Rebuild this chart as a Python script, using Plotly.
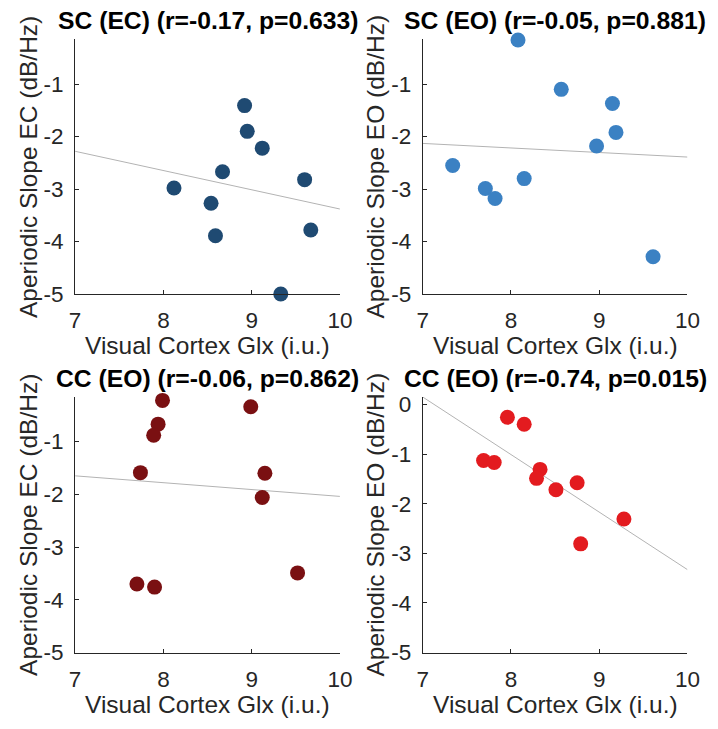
import plotly.graph_objects as go

W, H = 718, 729

# ---------------- data ----------------
titles = [
    "SC (EC) (r=-0.17, p=0.633)",
    "SC (EO) (r=-0.05, p=0.881)",
    "CC (EO) (r=-0.06, p=0.862)",
    "CC (EO) (r=-0.74, p=0.015)",
]
ylabels = [
    "Aperiodic Slope EC (dB/Hz)",
    "Aperiodic Slope EO (dB/Hz)",
    "Aperiodic Slope EC (dB/Hz)",
    "Aperiodic Slope EO (dB/Hz)",
]
xlabel = "Visual Cortex Glx (i.u.)"

sc_ec_x = [8.92, 8.95, 9.12, 8.67, 8.12, 8.54, 8.59, 9.60, 9.67, 9.33]
sc_ec_y = [-1.41, -1.90, -2.22, -2.67, -2.98, -3.27, -3.89, -2.82, -3.78, -5.00]

sc_eo_x = [8.08, 8.57, 9.15, 9.19, 8.97, 7.34, 8.15, 7.71, 7.82, 9.61]
sc_eo_y = [-0.16, -1.10, -1.37, -1.92, -2.18, -2.55, -2.80, -2.99, -3.18, -4.29]

cc_ec_x = [7.99, 8.99, 7.94, 7.89, 7.74, 9.15, 9.12, 9.52, 7.70, 7.90]
cc_ec_y = [-0.22, -0.34, -0.67, -0.88, -1.59, -1.60, -2.06, -3.49, -3.70, -3.76]

cc_eo_x = [7.96, 8.15, 7.69, 7.81, 8.33, 8.29, 8.51, 8.75, 9.28, 8.79]
cc_eo_y = [-0.26, -0.40, -1.13, -1.17, -1.31, -1.49, -1.72, -1.58, -2.31, -2.81]

xs = [sc_ec_x, sc_eo_x, cc_ec_x, cc_eo_x]
ys = [sc_ec_y, sc_eo_y, cc_ec_y, cc_eo_y]

# regression lines: value at x=7 and x=10
fit_x = [7, 10]
fit_y = [
    [-2.28, -3.38],
    [-2.13, -2.39],
    [-1.65, -2.04],
    [0.15, -3.33],
]

colors = ["#1f4a72", "#3b81c3", "#7a1012", "#e31b1f"]
x_ticks = [7, 8, 9, 10]
y_ticks = [[-5, -4, -3, -2, -1], [-5, -4, -3, -2, -1], [-5, -4, -3, -2, -1], [-5, -4, -3, -2, -1, 0]]
y_ranges = [[-5, -0.144], [-5, -0.144], [-5, -0.148], [-5, 0.157]]

# ---------------- layout geometry (pixels) ----------------
boxes = [
    (71, 343, 36, 297),
    (428, 700, 36, 297),
    (71, 343, 402, 664),
    (428, 700, 402, 664),
]


def fx(p):
    return p / W


def fy(p):
    return 1 - p / H


FONT = "Liberation Sans, Arial, Helvetica, sans-serif"
AX = "#262626"

fig = go.Figure()
annotations = []
layout = {}
for i in range(4):
    n = "" if i == 0 else str(i + 1)
    x0, x1, y0, y1 = boxes[i]
    fig.add_trace(go.Scatter(
        x=fit_x, y=fit_y[i], mode="lines",
        line=dict(color="#b3b3b3", width=1),
        xaxis="x" + n, yaxis="y" + n, showlegend=False, hoverinfo="skip",
        cliponaxis=False,
    ))
    fig.add_trace(go.Scatter(
        x=xs[i], y=ys[i], mode="markers",
        marker=dict(color=colors[i], size=15, line=dict(width=0)),
        xaxis="x" + n, yaxis="y" + n, showlegend=False, cliponaxis=False,
    ))
    layout["xaxis" + n] = dict(
        domain=[fx(x0), fx(x1)], anchor="y" + n, range=[7, 10],
        tickvals=x_ticks, ticktext=[str(v) for v in x_ticks],
        ticks="inside", ticklen=4, tickwidth=1, tickcolor=AX,
        showline=True, linecolor=AX, linewidth=1, showgrid=False, zeroline=False,
        tickfont=dict(family=FONT, size=22.5, color=AX), ticklabelstandoff=6,
    )
    layout["yaxis" + n] = dict(
        domain=[fy(y1), fy(y0)], anchor="x" + n, range=y_ranges[i],
        tickvals=y_ticks[i], ticktext=[str(v) for v in y_ticks[i]],
        ticks="inside", ticklen=4, tickwidth=1, tickcolor=AX,
        showline=True, linecolor=AX, linewidth=1, showgrid=False, zeroline=False,
        tickfont=dict(family=FONT, size=22.5, color=AX), ticklabelstandoff=6,
    )
    cx = (x0 + x1) / 2
    annotations.append(dict(
        text="<b>" + titles[i] + "</b>", xref="paper", yref="paper",
        x=fx(cx), y=fy(y0 - 19), xanchor="center", yanchor="middle",
        showarrow=False, font=dict(family=FONT, size=24.7, color="#000000"),
    ))
    annotations.append(dict(
        text=xlabel, xref="paper", yref="paper",
        x=fx(cx), y=fy(y1 + 53), xanchor="center", yanchor="middle",
        showarrow=False, font=dict(family=FONT, size=24.5, color=AX),
    ))
    annotations.append(dict(
        text=ylabels[i], xref="paper", yref="paper",
        x=fx(x0 - 48), y=fy((y0 + y1) / 2), xanchor="center", yanchor="middle",
        textangle=-90, showarrow=False, font=dict(family=FONT, size=24.5, color=AX),
    ))

fig.update_layout(
    width=W, height=H, margin=dict(l=0, r=0, t=0, b=0),
    paper_bgcolor="white", plot_bgcolor="white",
    annotations=annotations, **layout,
)

fig.write_html("out.html")
